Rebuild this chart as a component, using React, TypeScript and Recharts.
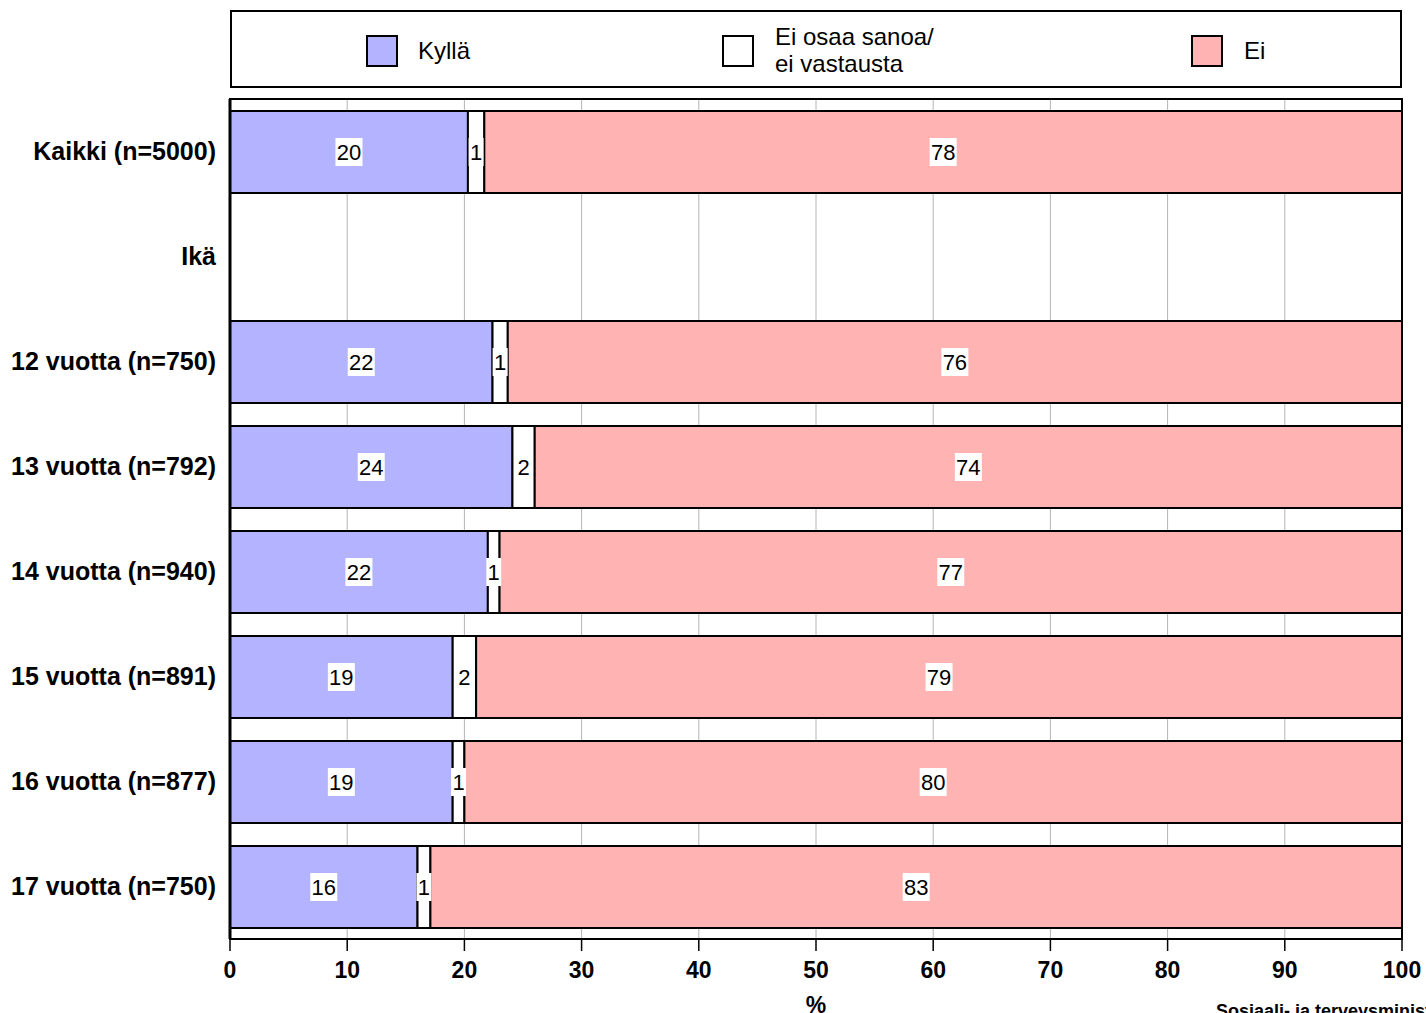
import { Bar, BarChart, CartesianGrid, LabelList, ReferenceArea, XAxis, YAxis } from "recharts";

const categories = [
  "Kaikki (n=5000)",
  "Ikä",
  "12 vuotta (n=750)",
  "13 vuotta (n=792)",
  "14 vuotta (n=940)",
  "15 vuotta (n=891)",
  "16 vuotta (n=877)",
  "17 vuotta (n=750)",
];
const kylla = [20.3, null, 22.4, 24.1, 22.0, 19.0, 19.0, 16.0];
const eos = [1.4, null, 1.3, 1.9, 1.0, 2.0, 1.0, 1.1];
const ei = [78.3, null, 76.3, 74.0, 77.0, 79.0, 80.0, 82.9];
const xTicks = [0, 10, 20, 30, 40, 50, 60, 70, 80, 90, 100];

const data = categories.map((name, i) => ({ name, kylla: kylla[i], eos: eos[i], ei: ei[i] }));

const FONT = "'Liberation Sans', Arial, sans-serif";

const BoxLabel = (props: any) => {
  const { x, y, width, height, value } = props;
  if (value == null) return null;
  const t = String(Math.round(value));
  const cx = x + width / 2;
  const cy = y + height / 2;
  const w = t.length * 12 + 3;
  return (
    <g>
      <rect x={cx - w / 2} y={cy - 14} width={w} height={28} fill="#fff" />
      <text x={cx} y={cy} textAnchor="middle" dominantBaseline="central" fontSize={22} fontFamily={FONT} fill="#000">
        {t}
      </text>
    </g>
  );
};

const swatch = (left: number, color: string) => (
  <div style={{ position: "absolute", left, top: 23, width: 32, height: 32, boxSizing: "border-box", border: "2px solid #000", background: color }} />
);

export default function App() {
  return (
    <div style={{ position: "fixed", left: 0, top: 0, width: 1426, height: 1013, overflow: "hidden", background: "#fff", fontFamily: FONT }}>
      <div style={{ position: "absolute", left: 230, top: 10, width: 1172, height: 78, boxSizing: "border-box", border: "2px solid #000", background: "#fff" }}>
        {swatch(134, "#b3b3ff")}
        <div style={{ position: "absolute", left: 186, top: 24, fontSize: 24, lineHeight: "30px" }}>Kyllä</div>
        {swatch(490, "#ffffff")}
        <div style={{ position: "absolute", left: 543, top: 11, fontSize: 24, lineHeight: "27px" }}>
          Ei osaa sanoa/
          <br />
          ei vastausta
        </div>
        {swatch(959, "#ffb3b3")}
        <div style={{ position: "absolute", left: 1012, top: 24, fontSize: 24, lineHeight: "30px" }}>Ei</div>
      </div>
      <BarChart
        width={1426}
        height={1013}
        data={data}
        layout="vertical"
        margin={{ top: 99, right: 24, bottom: 0, left: 0 }}
      >
        <CartesianGrid horizontal={false} stroke="#b4b4b4" strokeWidth={1} />
        <XAxis
          type="number"
          domain={[0, 100]}
          ticks={xTicks}
          height={74}
          tickSize={12}
          tickMargin={11}
          axisLine={{ stroke: "#000", strokeWidth: 2 }}
          tickLine={{ stroke: "#000", strokeWidth: 1.5 }}
          tick={{ fill: "#000", fontSize: 23, fontWeight: "bold", fontFamily: FONT }}
          label={{ value: "%", position: "insideBottom", offset: 0, fill: "#000", fontSize: 23, fontWeight: "bold", fontFamily: FONT }}
        />
        <YAxis
          type="category"
          dataKey="name"
          width={230}
          tickSize={0}
          tickMargin={14}
          axisLine={{ stroke: "#000", strokeWidth: 3 }}
          tickLine={false}
          tick={{ fill: "#000", fontSize: 25, fontWeight: "bold", fontFamily: FONT }}
        />
        <Bar dataKey="kylla" stackId="a" barSize={82} fill="#b3b3ff" stroke="#000" strokeWidth={2} isAnimationActive={false}>
          <LabelList dataKey="kylla" content={BoxLabel} />
        </Bar>
        <Bar dataKey="eos" stackId="a" barSize={82} fill="#ffffff" stroke="#000" strokeWidth={2} isAnimationActive={false}>
          <LabelList dataKey="eos" content={BoxLabel} />
        </Bar>
        <Bar dataKey="ei" stackId="a" barSize={82} fill="#ffb3b3" stroke="#000" strokeWidth={2} isAnimationActive={false}>
          <LabelList dataKey="ei" content={BoxLabel} />
        </Bar>
        <ReferenceArea x1={0} x2={100} fill="none" stroke="#000" strokeWidth={2} />
      </BarChart>
      <div style={{ position: "absolute", left: 1216, top: 1001, fontSize: 18, fontWeight: "bold", whiteSpace: "nowrap" }}>
        Sosiaali- ja terveysministeriö
      </div>
    </div>
  );
}
